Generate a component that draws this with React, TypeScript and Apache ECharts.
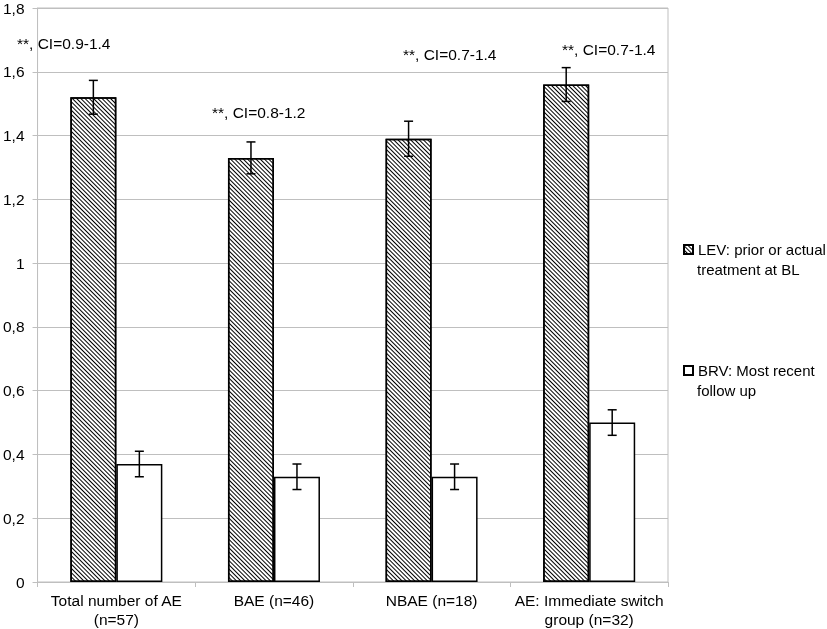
import React, { useEffect, useRef } from "react";
import * as echarts from "echarts";

const categories = [
  "Total number of AE\n(n=57)",
  "BAE (n=46)",
  "NBAE (n=18)",
  "AE: Immediate switch\ngroup (n=32)",
];
const levName = "LEV: prior or actual treatment at BL";
const brvName = "BRV: Most recent follow up";
const levValues = [1.52, 1.33, 1.39, 1.56];
const levErr = [0.053, 0.05, 0.055, 0.053];
const brvValues = [0.37, 0.33, 0.33, 0.5];
const brvErr = [0.04, 0.04, 0.04, 0.04];
const annotations = ["**, CI=0.9-1.4", "**, CI=0.8-1.2", "**, CI=0.7-1.4", "**, CI=0.7-1.4"];

const FONT = "Liberation Sans, Arial, sans-serif";
const BAR_W = 46;
const FS = 15.5;

export default function App() {
  const ref = useRef<HTMLDivElement>(null);
  useEffect(() => {
    if (!ref.current) return;
    const chart = echarts.init(ref.current, undefined, { renderer: "svg" });

    const errData = (vals: number[], errs: number[]) =>
      vals.map((v, i) => [i, v - errs[i], v + errs[i]]);

    const errSeries = (name: string, vals: number[], errs: number[], offset: number) => ({
      type: "custom",
      name: name + " error",
      data: errData(vals, errs),
      z: 10,
      renderItem: (params: any, api: any) => {
        const x = api.value(0);
        const lo = api.coord([x, api.value(1)]);
        const hi = api.coord([x, api.value(2)]);
        const cx = lo[0] + offset;
        const cap = 4.5;
        const style = { stroke: "#000", lineWidth: 1.5 };
        return {
          type: "group",
          children: [
            { type: "line", shape: { x1: cx, y1: lo[1], x2: cx, y2: hi[1] }, style },
            { type: "line", shape: { x1: cx - cap, y1: lo[1], x2: cx + cap, y2: lo[1] }, style },
            { type: "line", shape: { x1: cx - cap, y1: hi[1], x2: cx + cap, y2: hi[1] }, style },
          ],
        };
      },
    });

    const annPos = [
      { x: 17, y: 44 },
      { x: 212, y: 113 },
      { x: 403, y: 55 },
      { x: 562, y: 50 },
    ];

    const legendCommon = {
      orient: "vertical",
      left: 683,
      padding: 0,
      itemWidth: 9,
      itemHeight: 9,
      itemGap: 5,
      icon: "rect",
      textStyle: { fontSize: 15, color: "#000", fontFamily: FONT, padding: [0, 0, 0, 0] },
    };

    chart.setOption({
      animation: false,
      textStyle: { fontFamily: FONT },
      grid: {
        left: 35,
        top: 6,
        right: 159,
        bottom: 44,
        show: true,
        borderColor: "#bfbfbf",
        borderWidth: 1,
        backgroundColor: "transparent",
      },
      legend: [
        {
          ...legendCommon,
          data: [levName],
          top: 242,
          formatter: () => "LEV: prior or actual",
        },
        {
          ...legendCommon,
          data: [brvName],
          top: 363,
          formatter: () => "BRV: Most recent",
        },
      ],
      xAxis: {
        type: "category",
        data: categories,
        axisLine: { lineStyle: { color: "#bfbfbf", width: 1 } },
        axisTick: { show: true, length: 5, lineStyle: { color: "#bfbfbf" } },
        axisLabel: {
          color: "#000",
          fontSize: FS,
          lineHeight: 19,
          margin: 9,
          interval: 0,
          fontFamily: FONT,
        },
      },
      yAxis: {
        type: "value",
        min: 0,
        max: 1.8,
        interval: 0.2,
        axisLine: { show: true, lineStyle: { color: "#bfbfbf", width: 1 } },
        axisTick: { show: true, length: 5, lineStyle: { color: "#bfbfbf" } },
        splitLine: { lineStyle: { color: "#bfbfbf", width: 1 } },
        axisLabel: {
          color: "#000",
          fontSize: FS,
          margin: 13,
          fontFamily: FONT,
          formatter: (v: number) => {
            const r = Math.round(v * 10) / 10;
            return Number.isInteger(r) ? String(r) : r.toFixed(1).replace(".", ",");
          },
        },
      },
      series: [
        {
          type: "bar",
          name: levName,
          data: levValues,
          barWidth: BAR_W,
          barGap: "0%",
          itemStyle: {
            color: "#fff",
            borderColor: "#000",
            borderWidth: 1.5,
            decal: {
              symbol: "rect",
              symbolSize: 1,
              dashArrayX: [1, 0],
              dashArrayY: [1, 1.9],
              rotation: Math.PI / 4,
              color: "#000",
            },
          },
        },
        {
          type: "bar",
          name: brvName,
          data: brvValues,
          barWidth: BAR_W,
          barGap: "0%",
          itemStyle: { color: "#fff", borderColor: "#000", borderWidth: 1.5 },
        },
        errSeries(levName, levValues, levErr, -BAR_W / 2),
        errSeries(brvName, brvValues, brvErr, BAR_W / 2),
      ],
      graphic: [
        ...annotations.map((t, i) => ({
          type: "text",
          left: annPos[i].x,
          top: annPos[i].y - 9,
          style: { text: t, fontSize: FS, fill: "#000", fontFamily: FONT },
        })),
        {
          type: "text",
          left: 697,
          top: 262,
          style: { text: "treatment at BL", fontSize: 15, fill: "#000", fontFamily: FONT },
        },
        {
          type: "text",
          left: 697,
          top: 383,
          style: { text: "follow up", fontSize: 15, fill: "#000", fontFamily: FONT },
        },
      ],
    });
    return () => chart.dispose();
  }, []);
  return (
    <div
      ref={ref}
      style={{ position: "fixed", left: 0, top: 0, width: 827, height: 629 }}
    />
  );
}
